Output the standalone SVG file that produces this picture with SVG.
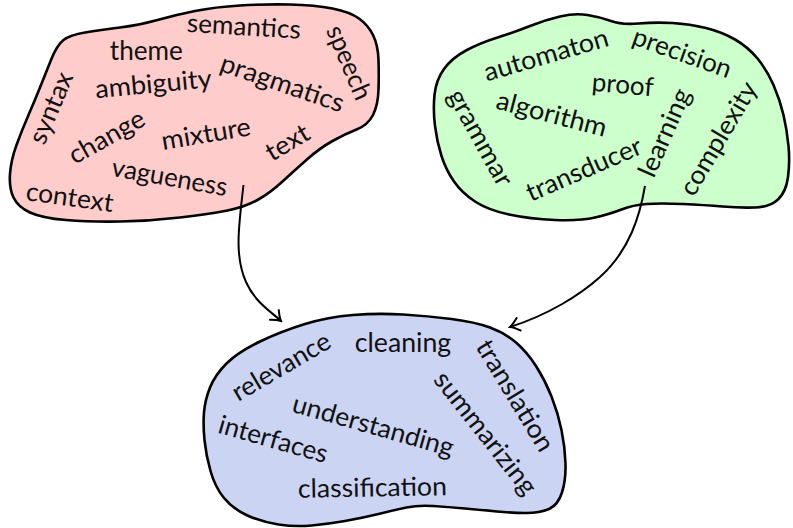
<svg xmlns="http://www.w3.org/2000/svg" width="793" height="528" viewBox="0 0 793 528">
<defs>
<style>
.blob{stroke:#000;stroke-width:2.6;stroke-linejoin:round}
.w{font-family:"Lato","Open Sans","DejaVu Sans",sans-serif;font-size:26px;fill:#111;text-anchor:middle}
.edge{fill:none;stroke:#000;stroke-width:2}
</style>
<marker id="to" viewBox="-11 -8 13 16" markerWidth="13" markerHeight="16" refX="0" refY="0" markerUnits="userSpaceOnUse" orient="auto">
<path d="M-9,-6.5 Q-3.5,-1.5 0,0 Q-3.5,1.5 -9,6.5" fill="none" stroke="#000" stroke-width="2" stroke-linecap="round"/>
</marker>
</defs>
<rect width="793" height="528" fill="#fff"/>
<g id="blob-red">
<path class="blob" fill="#ffcccc" d="M51,60 Q57,45 63.5,40 Q70,35 85,32.5 Q100,30 120,27.5 Q140,25 157.5,20 Q175,15 195,11 Q215,7 240,5.5 Q265,4 290,4.5 Q315,5 332.5,8.5 Q350,12 359,18.5 Q368,25 373,35 Q378,45 378.5,60 Q379,75 378.5,90 Q378,105 373,115 Q368,125 356.5,129.5 Q345,134 332.5,141 Q320,148 307.5,159 Q295,170 282.5,181.5 Q270,193 257.5,200 Q245,207 227.5,210.5 Q210,214 180,217.5 Q150,221 120,221.5 Q90,222 66,220 Q42,218 30,212.5 Q18,207 13.5,197.5 Q9,188 10,174 Q11,160 16.5,145 Q22,130 28.5,115 Q35,100 40,87.5 Q45,75 51,60 Z"/>
<text class="w" transform="translate(243.3,35.3) rotate(3.5)" textLength="114" lengthAdjust="spacingAndGlyphs">semantics</text>
<text class="w" transform="translate(146.3,60) rotate(0)" textLength="73" lengthAdjust="spacingAndGlyphs">theme</text>
<text class="w" transform="translate(154.2,92.7) rotate(-5.5)" textLength="117" lengthAdjust="spacingAndGlyphs">ambiguity</text>
<text class="w" transform="translate(279.5,91.5) rotate(19)" textLength="129" lengthAdjust="spacingAndGlyphs">pragmatics</text>
<text class="w" transform="translate(341,66) rotate(67)" textLength="78" lengthAdjust="spacingAndGlyphs">speech</text>
<text class="w" transform="translate(59,111.3) rotate(-67)" textLength="75.5" lengthAdjust="spacingAndGlyphs">syntax</text>
<text class="w" transform="translate(111,144.5) rotate(-29.4)" textLength="83" lengthAdjust="spacingAndGlyphs">change</text>
<text class="w" transform="translate(207.5,142.5) rotate(-9.5)" textLength="90" lengthAdjust="spacingAndGlyphs">mixture</text>
<text class="w" transform="translate(292,150) rotate(-31)" textLength="46.4" lengthAdjust="spacingAndGlyphs">text</text>
<text class="w" transform="translate(168,186) rotate(10)" textLength="117" lengthAdjust="spacingAndGlyphs">vagueness</text>
<text class="w" transform="translate(68.5,206) rotate(8)" textLength="88" lengthAdjust="spacingAndGlyphs">context</text>
</g>
<g id="blob-green">
<path class="blob" fill="#ccffcc" d="M435,126 Q433,110 434.5,95 Q436,80 444,69 Q452,58 466,50.5 Q480,43 497.5,37.5 Q515,32 530,26 Q545,20 560,16.5 Q575,13 587.5,15 Q600,17 611,21 Q622,25 638.5,23.5 Q655,22 672.5,23 Q690,24 706,28 Q722,32 735,39.5 Q748,47 757.5,58.5 Q767,70 773.5,85 Q780,100 783.5,115 Q787,130 788.5,146 Q790,162 788,177 Q786,192 778,199.5 Q770,207 755,207.5 Q740,208 722.5,206.5 Q705,205 682.5,204 Q660,203 646.5,204 Q633,205 621.5,209.5 Q610,214 595,217.5 Q580,221 555,220 Q530,219 509,214.5 Q488,210 475,201.5 Q462,193 454,181.5 Q446,170 441.5,156 Q437,142 435,126 Z"/>
<text class="w" transform="translate(548.5,63.5) rotate(-16.3)" textLength="128.6" lengthAdjust="spacingAndGlyphs">automaton</text>
<text class="w" transform="translate(679.3,61) rotate(19.6)" textLength="103" lengthAdjust="spacingAndGlyphs">precision</text>
<text class="w" transform="translate(622,93.5) rotate(5)" textLength="61.7" lengthAdjust="spacingAndGlyphs">proof</text>
<text class="w" transform="translate(472.7,141.9) rotate(61)" textLength="106.4" lengthAdjust="spacingAndGlyphs">grammar</text>
<text class="w" transform="translate(549.5,122.6) rotate(14.6)" textLength="113.2" lengthAdjust="spacingAndGlyphs">algorithm</text>
<text class="w" transform="translate(587.4,177.5) rotate(-23.4)" textLength="123.5" lengthAdjust="spacingAndGlyphs">transducer</text>
<text class="w" transform="translate(672.5,136.2) rotate(-66.3)" textLength="93.5" lengthAdjust="spacingAndGlyphs">learning</text>
<text class="w" transform="translate(726,143) rotate(-59.5)" textLength="127.1" lengthAdjust="spacingAndGlyphs">complexity</text>
</g>
<g id="blob-blue">
<path class="blob" fill="#cbd4f3" d="M204,412.5 Q205,400 210,387.5 Q215,375 226.5,363.5 Q238,352 260,341.5 Q282,331 305,324 Q328,317 353,315 Q378,313 403,314.5 Q428,316 451.5,319 Q475,322 490,327.5 Q505,333 516,342.5 Q527,352 536,366 Q545,380 551.5,396.5 Q558,413 561.5,430 Q565,447 565.5,463.5 Q566,480 562,492.5 Q558,505 549,509 Q540,513 526,513 Q512,513 497,511.5 Q482,510 465,508.5 Q448,507 433,506 Q418,505 406.5,507.5 Q395,510 378.5,514 Q362,518 345,521 Q328,524 311.5,525.5 Q295,527 278.5,524.5 Q262,522 247.5,515.5 Q233,509 224,498 Q215,487 210.5,471 Q206,455 204.5,440 Q203,425 204,412.5 Z"/>
<text class="w" transform="translate(285.6,374.2) rotate(-30.5)" textLength="109.7" lengthAdjust="spacingAndGlyphs">relevance</text>
<text class="w" transform="translate(403,351.5) rotate(0)" textLength="96.4" lengthAdjust="spacingAndGlyphs">cleaning</text>
<text class="w" transform="translate(507.6,400.1) rotate(58.7)" textLength="125.5" lengthAdjust="spacingAndGlyphs">translation</text>
<text class="w" transform="translate(478.6,438.5) rotate(51.8)" textLength="149" lengthAdjust="spacingAndGlyphs">summarizing</text>
<text class="w" transform="translate(370.9,434.1) rotate(15.7)" textLength="166.3" lengthAdjust="spacingAndGlyphs">understanding</text>
<text class="w" transform="translate(270.9,447.8) rotate(15.9)" textLength="112.4" lengthAdjust="spacingAndGlyphs">interfaces</text>
<text class="w" transform="translate(372.5,496.5) rotate(-1)" textLength="149" lengthAdjust="spacingAndGlyphs">classification</text>
</g>
<g id="connectors">
<path class="edge" marker-end="url(#to)" d="M243.5,185 C239,225 234,255 246,282 C255,302 269,310 281,321"/>
<path class="edge" marker-end="url(#to)" d="M645,186 C640,215 630,250 600,277 C580,295 548,315 510,327"/>
</g>
</svg>
